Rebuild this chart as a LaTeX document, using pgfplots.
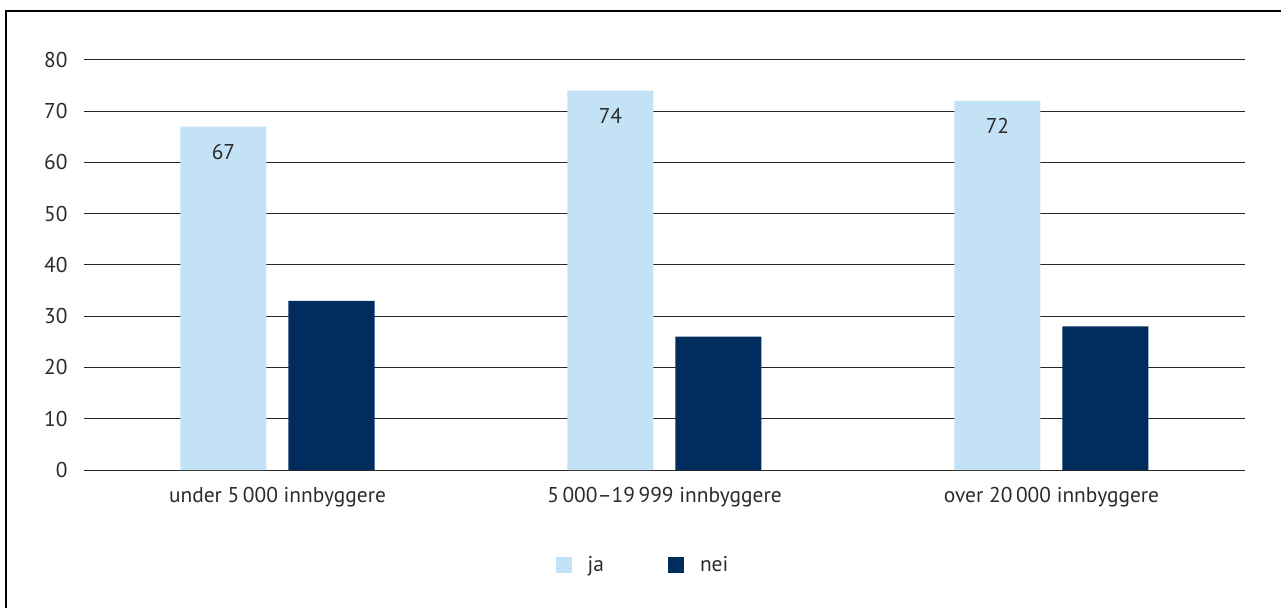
\documentclass[border=0pt]{standalone}
\usepackage{pgfplots}
\pgfplotsset{compat=1.18}
\usepackage{fontspec}
\setmainfont{PT Sans}
\definecolor{lightb}{HTML}{C3E2F5}
\definecolor{navy}{HTML}{012D5E}
\definecolor{txt}{HTML}{2B2B2B}
\begin{document}
\begin{tikzpicture}
\useasboundingbox (0,0) rectangle (1281bp,608bp);
\draw[line width=2bp,black] (6bp,0) -- (6bp,597bp) -- (1281bp,597bp);
\begin{axis}[
  at={(84bp,138bp)}, anchor=south west,
  scale only axis, width=1161bp, height=410bp,
  xmin=-0.5, xmax=2.5, ymin=0, ymax=80,
  ytick={0,10,...,80},
  xtick=data,
  xticklabels={under 5\,000 innbyggere, 5\,000–19\,999 innbyggere, over 20\,000 innbyggere},
  axis line style={draw=none},
  major tick length=0pt,
  ymajorgrids, grid style={black!85, line width=1bp},
  ybar=22bp, bar width=86bp,
  /pgf/number format/assume math mode=true,
  tick label style={font=\fontsize{21.5}{24}\selectfont, text=txt},
  yticklabel style={xshift=-13bp},
  xticklabel style={yshift=-14bp},
  legend style={at={(0.4815,-0.232)}, anchor=center, draw=none, fill=none,
    legend columns=2, font=\fontsize{21.5}{24}\selectfont, text=txt,
    /tikz/every even column/.append style={column sep=62bp},
    legend cell align=left},
  legend image code/.code={\fill[#1] (0bp,-8bp) rectangle (16bp,8bp); \path (30bp,0bp);},
  clip=false,
]
\addplot[fill=lightb, draw=none,
  nodes near coords,
  every node near coord/.append style={anchor=center, yshift=-25bp, font=\fontsize{21.5}{24}\selectfont, text=txt}]
  coordinates {(0,67) (1,74) (2,72)};
\addlegendentry{ja}
\addplot[fill=navy, draw=none] coordinates {(0,33) (1,26) (2,28)};
\addlegendentry{nei}
\end{axis}
\end{tikzpicture}
\end{document}
